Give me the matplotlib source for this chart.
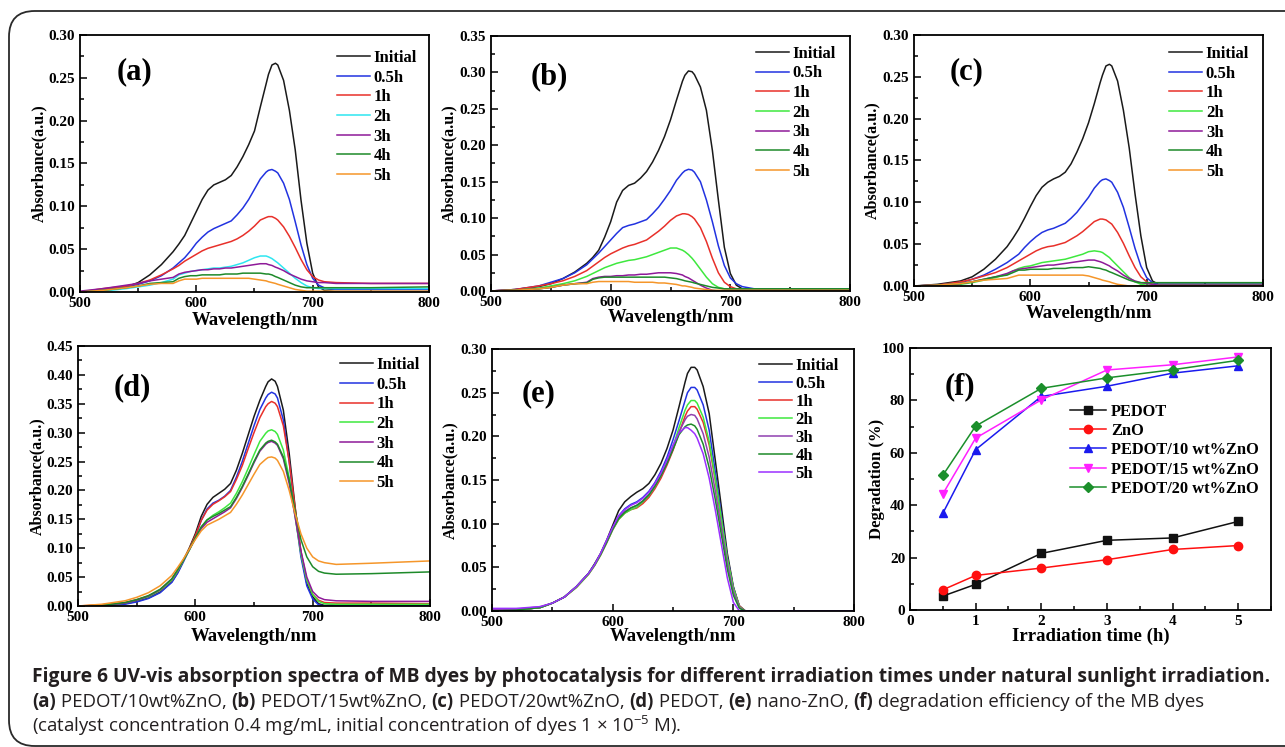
import matplotlib
matplotlib.use("Agg")
import matplotlib.pyplot as plt
from matplotlib.patches import FancyBboxPatch
from matplotlib.ticker import MultipleLocator, FormatStrFormatter

W, H = 1285, 747
SERIF = "Liberation Serif"
CAPFONT = "Open Sans"
plt.rcParams["mathtext.fontset"] = "custom"
plt.rcParams["mathtext.rm"] = CAPFONT
plt.rcParams["mathtext.it"] = CAPFONT

# ---- data ----
WL = [500, 520, 540, 550, 560, 570, 580, 585,
      590, 595, 600, 605, 610, 615, 620, 625, 630, 635, 640, 645, 650, 655, 660, 662, 665, 668, 670,
      675, 680, 685, 690, 695, 700, 705, 710, 720, 750, 800]
TIME_LABELS = ["Initial", "0.5h", "1h", "2h", "3h", "4h", "5h"]

a_curves = [
    [0.000,0.003,0.006,0.011,0.020,0.032,0.047,0.056,
     0.066,0.080,0.094,0.108,0.119,0.125,0.128,0.131,0.136,0.146,0.158,0.172,0.188,0.216,0.243,0.254,0.265,0.267,0.265,
     0.247,0.212,0.166,0.107,0.057,0.022,0.006,0.002,0.003,0.003,0.003],
    [0.000,0.003,0.006,0.009,0.013,0.019,0.028,0.034,
     0.040,0.048,0.057,0.064,0.070,0.074,0.077,0.080,0.083,0.090,0.098,0.108,0.120,0.132,0.140,0.142,0.143,0.141,0.139,
     0.127,0.108,0.082,0.055,0.032,0.016,0.008,0.005,0.003,0.003,0.003],
    [0.000,0.004,0.007,0.010,0.014,0.020,0.027,0.031,
     0.036,0.040,0.044,0.048,0.051,0.053,0.055,0.057,0.059,0.062,0.066,0.071,0.077,0.084,0.087,0.088,0.088,0.086,0.084,
     0.076,0.065,0.052,0.038,0.026,0.018,0.014,0.012,0.011,0.010,0.010],
    [0.000,0.001,0.004,0.006,0.008,0.011,0.015,0.020,
     0.022,0.024,0.025,0.026,0.027,0.028,0.028,0.029,0.030,0.032,0.034,0.037,0.040,0.042,0.042,0.041,0.039,0.036,0.034,
     0.028,0.022,0.016,0.011,0.007,0.005,0.004,0.004,0.004,0.004,0.004],
    [0.001,0.004,0.008,0.010,0.013,0.015,0.017,0.021,
     0.023,0.024,0.025,0.026,0.026,0.027,0.027,0.028,0.028,0.029,0.030,0.031,0.032,0.033,0.033,0.032,0.031,0.029,0.028,
     0.025,0.021,0.018,0.015,0.013,0.012,0.011,0.011,0.010,0.010,0.010],
    [0.000,0.002,0.005,0.007,0.010,0.011,0.012,0.016,
     0.018,0.019,0.019,0.020,0.020,0.020,0.020,0.021,0.021,0.021,0.022,0.022,0.022,0.022,0.021,0.021,0.020,0.018,0.017,
     0.014,0.011,0.008,0.006,0.005,0.005,0.005,0.005,0.005,0.005,0.006],
    [0.000,0.002,0.005,0.007,0.009,0.010,0.010,0.013,
     0.015,0.015,0.015,0.016,0.016,0.016,0.016,0.016,0.016,0.016,0.016,0.016,0.015,0.014,0.013,0.012,0.011,0.010,0.009,
     0.007,0.005,0.003,0.002,0.001,0.001,0.001,0.001,0.001,0.001,0.001],
]
b_curves = [
    [0.000,0.002,0.006,0.010,0.017,0.026,0.038,0.046,
     0.056,0.074,0.095,0.122,0.138,0.145,0.148,0.155,0.164,0.177,0.193,0.212,0.235,0.262,0.288,0.296,0.302,0.301,0.297,
     0.280,0.248,0.193,0.125,0.060,0.024,0.008,0.003,0.002,0.002,0.002],
    [0.000,0.002,0.007,0.012,0.017,0.025,0.036,0.044,
     0.052,0.061,0.070,0.079,0.087,0.090,0.092,0.095,0.098,0.106,0.115,0.126,0.138,0.152,0.162,0.165,0.167,0.166,0.163,
     0.150,0.125,0.095,0.062,0.035,0.018,0.010,0.006,0.003,0.003,0.003],
    [0.000,0.002,0.007,0.010,0.014,0.020,0.028,0.034,
     0.040,0.046,0.051,0.055,0.059,0.062,0.064,0.067,0.070,0.076,0.082,0.089,0.097,0.103,0.106,0.106,0.105,0.102,0.099,
     0.087,0.068,0.045,0.025,0.012,0.006,0.003,0.002,0.001,0.001,0.001],
    [0.000,0.001,0.004,0.007,0.010,0.014,0.020,0.024,
     0.028,0.032,0.035,0.038,0.040,0.042,0.043,0.045,0.047,0.050,0.053,0.056,0.059,0.059,0.056,0.054,0.050,0.045,0.041,
     0.030,0.019,0.010,0.005,0.003,0.002,0.002,0.002,0.002,0.002,0.002],
    [0.000,0.001,0.003,0.005,0.008,0.010,0.012,0.017,
     0.019,0.020,0.020,0.021,0.021,0.022,0.022,0.023,0.023,0.024,0.025,0.025,0.025,0.024,0.022,0.020,0.018,0.015,0.013,
     0.008,0.004,0.001,0.000,0.001,0.001,0.001,0.001,0.001,0.001,0.001],
    [0.000,0.001,0.003,0.005,0.008,0.010,0.011,0.016,
     0.018,0.019,0.019,0.019,0.019,0.019,0.019,0.019,0.019,0.019,0.019,0.019,0.018,0.017,0.015,0.014,0.013,0.012,0.011,
     0.009,0.007,0.005,0.004,0.003,0.003,0.003,0.003,0.003,0.003,0.003],
    [0.000,0.001,0.003,0.005,0.008,0.010,0.010,0.012,
     0.013,0.013,0.013,0.013,0.013,0.013,0.012,0.012,0.012,0.012,0.011,0.011,0.010,0.009,0.007,0.007,0.006,0.005,0.004,
     0.003,0.002,0.001,0.001,0.001,0.001,0.001,0.001,0.001,0.001,0.001],
]
c_curves = [
    [0.000,0.002,0.006,0.011,0.020,0.032,0.047,0.057,
     0.068,0.081,0.095,0.108,0.118,0.124,0.128,0.131,0.136,0.146,0.160,0.176,0.195,0.218,0.243,0.252,0.263,0.265,0.263,
     0.245,0.210,0.165,0.110,0.060,0.022,0.006,0.002,0.002,0.002,0.002],
    [0.000,0.001,0.004,0.008,0.013,0.020,0.028,0.033,
     0.038,0.046,0.053,0.059,0.064,0.067,0.069,0.072,0.075,0.081,0.088,0.097,0.106,0.117,0.125,0.127,0.128,0.126,0.124,
     0.112,0.094,0.070,0.045,0.024,0.010,0.004,0.002,0.002,0.002,0.002],
    [0.000,0.001,0.005,0.008,0.012,0.016,0.022,0.026,
     0.030,0.034,0.038,0.042,0.045,0.047,0.048,0.050,0.052,0.056,0.060,0.065,0.071,0.077,0.080,0.080,0.079,0.076,0.074,
     0.064,0.051,0.036,0.022,0.011,0.005,0.002,0.001,0.001,0.001,0.001],
    [0.000,0.000,0.002,0.004,0.007,0.010,0.014,0.018,
     0.021,0.023,0.024,0.026,0.028,0.029,0.030,0.031,0.032,0.034,0.036,0.038,0.041,0.042,0.041,0.040,0.037,0.034,0.031,
     0.024,0.017,0.010,0.005,0.002,0.001,0.001,0.001,0.001,0.001,0.001],
    [0.000,0.001,0.003,0.005,0.008,0.011,0.015,0.018,
     0.020,0.021,0.022,0.023,0.024,0.025,0.025,0.026,0.027,0.028,0.029,0.030,0.031,0.031,0.029,0.028,0.026,0.024,0.022,
     0.018,0.013,0.009,0.006,0.004,0.003,0.002,0.001,0.001,0.001,0.001],
    [0.000,0.001,0.003,0.005,0.008,0.011,0.013,0.016,
     0.019,0.019,0.020,0.020,0.020,0.020,0.021,0.021,0.021,0.022,0.022,0.022,0.023,0.022,0.021,0.020,0.019,0.017,0.016,
     0.013,0.010,0.007,0.005,0.004,0.004,0.004,0.004,0.004,0.004,0.004],
    [0.000,0.001,0.003,0.005,0.007,0.008,0.009,0.011,
     0.013,0.013,0.013,0.013,0.013,0.013,0.013,0.013,0.013,0.013,0.013,0.013,0.012,0.010,0.008,0.007,0.006,0.005,0.004,
     0.002,0.001,0.000,0.000,0.000,0.000,0.000,0.000,0.000,0.000,0.000],
]
d_curves = [
    [0.000,0.001,0.004,0.008,0.014,0.024,0.042,0.058,
     0.079,0.101,0.125,0.155,0.176,0.188,0.195,0.202,0.212,0.235,0.264,0.296,0.328,0.356,0.380,0.388,0.393,0.389,0.380,
     0.339,0.264,0.172,0.091,0.039,0.016,0.004,0.001,0.002,0.002,0.002],
    [0.000,0.000,0.003,0.007,0.013,0.023,0.041,0.057,
     0.077,0.098,0.120,0.148,0.168,0.178,0.183,0.190,0.200,0.223,0.250,0.281,0.312,0.340,0.360,0.366,0.370,0.367,0.360,
     0.322,0.250,0.160,0.085,0.035,0.012,0.002,0.000,0.001,0.001,0.001],
    [0.000,0.002,0.006,0.011,0.017,0.027,0.045,0.061,
     0.080,0.100,0.122,0.148,0.166,0.176,0.182,0.189,0.198,0.219,0.243,0.272,0.300,0.326,0.345,0.350,0.354,0.351,0.345,
     0.312,0.250,0.170,0.095,0.045,0.020,0.010,0.006,0.005,0.005,0.004],
    [0.000,0.001,0.005,0.010,0.016,0.027,0.045,0.061,
     0.079,0.097,0.117,0.136,0.149,0.157,0.163,0.170,0.178,0.195,0.215,0.238,0.262,0.285,0.299,0.303,0.305,0.302,0.297,
     0.270,0.222,0.155,0.090,0.045,0.020,0.008,0.004,0.003,0.003,0.003],
    [0.000,0.001,0.005,0.010,0.017,0.028,0.047,0.063,
     0.080,0.098,0.117,0.134,0.145,0.151,0.157,0.163,0.170,0.186,0.205,0.226,0.248,0.268,0.280,0.283,0.285,0.282,0.278,
     0.255,0.212,0.155,0.095,0.050,0.025,0.015,0.011,0.009,0.008,0.008],
    [0.000,0.001,0.006,0.011,0.018,0.029,0.047,0.063,
     0.080,0.099,0.118,0.137,0.149,0.155,0.160,0.166,0.172,0.188,0.207,0.228,0.250,0.270,0.282,0.285,0.287,0.284,0.280,
     0.258,0.218,0.165,0.115,0.085,0.068,0.060,0.057,0.055,0.056,0.059],
    [0.000,0.003,0.009,0.015,0.023,0.035,0.053,0.067,
     0.082,0.099,0.115,0.130,0.140,0.145,0.150,0.156,0.162,0.176,0.192,0.210,0.228,0.245,0.254,0.257,0.258,0.256,0.252,
     0.233,0.200,0.160,0.125,0.100,0.085,0.078,0.075,0.072,0.074,0.078],
]
e_curves = [
    [0.000,0.001,0.004,0.009,0.016,0.028,0.043,0.054,
     0.066,0.081,0.098,0.115,0.125,0.131,0.136,0.140,0.146,0.156,0.169,0.186,0.207,0.234,0.262,0.272,0.279,0.279,0.276,
     0.257,0.226,0.173,0.120,0.066,0.028,0.005,0.000,0.000,0.000,0.000],
    [0.000,0.001,0.004,0.009,0.016,0.028,0.043,0.053,
     0.065,0.080,0.095,0.109,0.117,0.122,0.125,0.130,0.137,0.147,0.160,0.176,0.196,0.218,0.241,0.250,0.256,0.256,0.253,
     0.236,0.207,0.160,0.110,0.062,0.027,0.006,0.000,0.000,0.000,0.000],
    [0.000,0.001,0.004,0.009,0.016,0.027,0.042,0.052,
     0.064,0.078,0.093,0.105,0.112,0.116,0.118,0.123,0.130,0.140,0.152,0.167,0.184,0.204,0.223,0.229,0.234,0.234,0.231,
     0.216,0.190,0.150,0.105,0.060,0.026,0.006,0.000,0.000,0.000,0.000],
    [0.000,0.001,0.004,0.009,0.016,0.027,0.042,0.052,
     0.064,0.078,0.093,0.105,0.112,0.116,0.119,0.125,0.132,0.142,0.155,0.170,0.188,0.210,0.230,0.236,0.241,0.241,0.238,
     0.222,0.194,0.152,0.106,0.060,0.026,0.005,0.000,0.000,0.000,0.000],
    [0.002,0.002,0.005,0.009,0.016,0.028,0.043,0.053,
     0.065,0.079,0.094,0.107,0.114,0.118,0.121,0.126,0.133,0.143,0.155,0.169,0.186,0.205,0.219,0.223,0.225,0.224,0.220,
     0.203,0.176,0.138,0.096,0.054,0.022,0.004,0.000,0.000,0.000,0.000],
    [0.000,0.001,0.004,0.009,0.016,0.028,0.043,0.053,
     0.065,0.079,0.094,0.106,0.113,0.118,0.121,0.126,0.133,0.143,0.155,0.169,0.185,0.202,0.211,0.213,0.214,0.212,0.208,
     0.191,0.164,0.128,0.088,0.048,0.018,0.003,0.000,0.000,0.000,0.000],
    [0.003,0.003,0.005,0.009,0.016,0.028,0.043,0.053,
     0.066,0.081,0.096,0.109,0.116,0.121,0.124,0.129,0.136,0.146,0.158,0.173,0.190,0.204,0.210,0.210,0.207,0.203,0.198,
     0.180,0.152,0.116,0.077,0.038,0.010,0.000,0.000,0.000,0.000,0.000],
]

# panel (f)
IRR_TIME = [0.5, 1, 2, 3, 4, 5]
DEG_NAMES = ["PEDOT", "ZnO", "PEDOT/10 wt%ZnO", "PEDOT/15 wt%ZnO", "PEDOT/20 wt%ZnO"]
deg_pedot = [5.3, 9.8, 21.6, 26.6, 27.5, 33.8]
deg_zno = [7.7, 13.2, 16.0, 19.2, 23.1, 24.6]
deg_10 = [36.9, 61.2, 81.5, 85.4, 90.4, 93.2]
deg_15 = [44.3, 65.6, 80.2, 91.6, 93.6, 96.6]
deg_20 = [51.4, 70.2, 84.6, 88.6, 91.7, 95.3]

# ---- styles ----
BLACK, BLUE, RED = "#1a1a1a", "#2233e0", "#e8302a"
CYAN, LGREEN, PURPLE = "#2ee6f0", "#3ee83e", "#8e1a99"
DGREEN, ORANGE = "#1e8a2a", "#f5962a"
cols_a = [BLACK, BLUE, RED, CYAN, PURPLE, DGREEN, ORANGE]
cols_bcd = [BLACK, BLUE, RED, LGREEN, PURPLE, DGREEN, ORANGE]
cols_e = [BLACK, BLUE, RED, LGREEN, "#9040b0", DGREEN, "#9b30ff"]

fig = plt.figure(figsize=(W / 100, H / 100), dpi=100)


def px_axes(l, t, r, b):
    return fig.add_axes([l / W, 1 - b / H, (r - l) / W, (b - t) / H])


def style_axes(ax):
    for s in ax.spines.values():
        s.set_linewidth(1.3)
    ax.tick_params(which="both", direction="in", top=False, right=False, width=1.1)
    ax.tick_params(which="major", length=5, pad=3.5, labelsize=11)
    ax.tick_params(which="minor", length=3)
    for lab in ax.get_xticklabels() + ax.get_yticklabels():
        lab.set_fontfamily(SERIF)
        lab.set_fontweight("bold")


def place_labels(ax, box, ylab_x, xlab_y):
    l, t, r, b = box
    # xlabel anchor is its top edge, ylabel anchor is its right edge
    ax.xaxis.set_label_coords(0.5, -(xlab_y - 9 - b) / (b - t))
    ax.yaxis.set_label_coords((ylab_x + 8 - l) / (r - l), 0.5)


def spectra_panel(box, curves, colors, ymax, tag, tagpos, legpos, ylab_x, xlab_y, legsp):
    ax = px_axes(*box)
    for ys, c, lab in zip(curves, colors, TIME_LABELS):
        ax.plot(WL, ys, color=c, lw=1.1, label=lab)
    ax.set_xlim(500, 800)
    ax.set_ylim(0, ymax)
    ax.xaxis.set_major_locator(MultipleLocator(100))
    ax.xaxis.set_minor_locator(MultipleLocator(50))
    ax.yaxis.set_major_locator(MultipleLocator(0.05))
    ax.yaxis.set_minor_locator(MultipleLocator(0.025))
    ax.yaxis.set_major_formatter(FormatStrFormatter("%.2f"))
    style_axes(ax)
    ax.set_xlabel("Wavelength/nm", fontfamily=SERIF, fontweight="bold", fontsize=13.5)
    ax.set_ylabel("Absorbance(a.u.)", fontfamily=SERIF, fontweight="bold", fontsize=11.5)
    place_labels(ax, box, ylab_x, xlab_y)
    ax.text(tagpos[0], tagpos[1], tag, transform=ax.transAxes, fontfamily=SERIF,
            fontweight="bold", fontsize=22, ha="center", va="center")
    ax.legend(loc="upper right", bbox_to_anchor=legpos, frameon=False,
              prop={"family": SERIF, "weight": "bold", "size": 12},
              handlelength=2.0, handletextpad=0.2, labelspacing=legsp,
              borderpad=0.2, borderaxespad=0)
    return ax


spectra_panel((80, 35, 429, 292), a_curves, cols_a, 0.30, "(a)", (0.157, 0.856),
              (0.975, 0.955), 39, 321, 0.22)
spectra_panel((491, 36, 850, 291), b_curves, cols_bcd, 0.35, "(b)", (0.162, 0.839),
              (0.970, 0.975), 449, 318, 0.22)
spectra_panel((914, 35, 1263, 286), c_curves, cols_bcd, 0.30, "(c)", (0.152, 0.853),
              (0.970, 0.97), 872, 314, 0.22)
spectra_panel((78, 346, 430, 606), d_curves, cols_bcd, 0.45, "(d)", (0.153, 0.838),
              (0.980, 0.97), 37, 637, 0.22)
spectra_panel((492, 349, 854, 611), e_curves, cols_e, 0.30, "(e)", (0.130, 0.828),
              (0.968, 0.98), 450, 637, 0.12)

# panel (f)
boxf = (910, 348, 1271, 610)
axf = px_axes(*boxf)
series = [deg_pedot, deg_zno, deg_10, deg_15, deg_20]
fcols = ["#111111", "#ff1010", "#1a1aee", "#ff20ff", "#1b8f2b"]
fmarks = ["s", "o", "^", "v", "D"]
for ys, c, m, n in zip(series, fcols, fmarks, DEG_NAMES):
    axf.plot(IRR_TIME, ys, color=c, marker=m, ms=6 if m != "D" else 5, lw=1.1, label=n)
axf.set_xlim(0, 5.5)
axf.set_ylim(0, 100)
axf.xaxis.set_major_locator(MultipleLocator(1))
axf.xaxis.set_minor_locator(MultipleLocator(0.5))
axf.yaxis.set_major_locator(MultipleLocator(20))
axf.yaxis.set_minor_locator(MultipleLocator(10))
style_axes(axf)
axf.set_xlabel("Irradiation time (h)", fontfamily=SERIF, fontweight="bold", fontsize=13.5)
axf.set_ylabel("Degradation (%)", fontfamily=SERIF, fontweight="bold", fontsize=12)
place_labels(axf, boxf, 877, 637)
axf.text(0.139, 0.851, "(f)", transform=axf.transAxes, fontfamily=SERIF,
         fontweight="bold", fontsize=22, ha="center", va="center")
axf.legend(loc="upper right", bbox_to_anchor=(0.975, 0.80), frameon=False,
           prop={"family": SERIF, "weight": "bold", "size": 11.8},
           handlelength=2.2, handletextpad=0.3, labelspacing=0.2,
           borderpad=0.2, borderaxespad=0)

# rounded frame around the whole figure
frame = FancyBboxPatch((9 / W, 1 - 746 / H), 1400 / W, (746 - 11) / H,
                       boxstyle="round,pad=0,rounding_size=0.02",
                       transform=fig.transFigure, fill=False, ec="#2a2a2a",
                       lw=1.3, mutation_aspect=W / H, clip_on=False)
fig.add_artist(frame)

# caption with mixed weights
renderer = fig.canvas.get_renderer()


def rich_line(x, y, parts, size):
    for txt, weight in parts:
        tt = fig.text(x / W, 1 - y / H, txt, fontsize=size, fontweight=weight,
                      fontfamily=CAPFONT, va="center", ha="left", color="#231f20")
        x += tt.get_window_extent(renderer=renderer).width


fig.text(32 / W, 1 - 677 / H,
         "Figure 6 UV-vis absorption spectra of MB dyes by photocatalysis for different "
         "irradiation times under natural sunlight irradiation.",
         fontsize=13.9, fontweight="bold", fontfamily=CAPFONT, va="center", color="#231f20")
rich_line(32, 702, [("(a)", "bold"), (" PEDOT/10wt%ZnO, ", "normal"),
                    ("(b)", "bold"), (" PEDOT/15wt%ZnO, ", "normal"),
                    ("(c)", "bold"), (" PEDOT/20wt%ZnO, ", "normal"),
                    ("(d)", "bold"), (" PEDOT, ", "normal"),
                    ("(e)", "bold"), (" nano-ZnO, ", "normal"),
                    ("(f)", "bold"), (" degradation efficiency of the MB dyes", "normal")], 13.4)
fig.text(32 / W, 1 - 726 / H,
         "(catalyst concentration 0.4 mg/mL, initial concentration of dyes 1 \u00d7 10$^{-5}$ M).",
         fontsize=13.4, fontfamily=CAPFONT, va="center", color="#231f20")

fig.savefig("out.png", dpi=100)
